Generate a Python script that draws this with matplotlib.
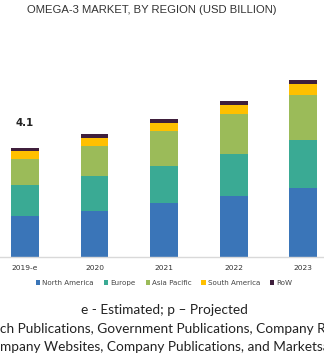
import numpy as np
import matplotlib
matplotlib.use("Agg")
import matplotlib.pyplot as plt
from matplotlib.patches import Patch

years = ["2019-e", "2020", "2021", "2022", "2023"]
regions = ["North America", "Europe", "Asia Pacific", "South America", "RoW"]
north_america = [1.54, 1.74, 2.02, 2.28, 2.59]
europe = [1.17, 1.30, 1.40, 1.60, 1.80]
asia_pacific = [0.99, 1.13, 1.32, 1.50, 1.70]
south_america = [0.30, 0.31, 0.31, 0.35, 0.40]
row = [0.10, 0.14, 0.14, 0.12, 0.15]
label_2019 = "4.1"
colors = ["#3a75b8", "#3aaa94", "#9bbb59", "#ffc000", "#3f1f3c"]

W, H = 324, 361
fig = plt.figure(figsize=(W / 100, H / 100), dpi=100)

# axes placed in pixel terms so the bars land where the reference has them
ax_bottom = 104
ax_top = 321
ax = fig.add_axes([0, ax_bottom / H, 1, (ax_top - ax_bottom) / H])
ax.set_xlim(-0.36, 4.30)
ax.set_ylim(0, (ax_top - ax_bottom) / 26.6)

x = np.arange(len(years))
bottom = np.zeros(len(years))
for vals, c in zip([north_america, europe, asia_pacific, south_america, row], colors):
    ax.bar(x, vals, 0.40, bottom=bottom, color=c, linewidth=0)
    bottom += np.array(vals)

ax.text(x[0], bottom[0] + 0.93, label_2019, ha="center", va="center",
        fontsize=7.4, fontweight="bold", color="#222222")

for s in ["top", "right", "left"]:
    ax.spines[s].set_visible(False)
ax.spines["bottom"].set_color("#d9d9d9")
ax.spines["bottom"].set_linewidth(1.0)
ax.set_yticks([])
ax.set_xticks(x)
ax.set_xticklabels(years, fontsize=5.4, color="#333333")
ax.tick_params(axis="x", length=0, pad=6)

fig.text(0.467, 1 - 10 / H, "OMEGA-3 MARKET, BY REGION (USD BILLION)",
         ha="center", va="center", fontsize=8.1, color="#333333",
         family="Liberation Sans")

handles = [Patch(facecolor=c, edgecolor="none") for c in colors]
fig.legend(handles, regions, loc="center", bbox_to_anchor=(0.507, 1 - 283 / H),
           ncol=5, frameon=False, fontsize=5.1, handlelength=0.6, handleheight=0.6,
           handletextpad=0.3, columnspacing=1.4, labelcolor="#444444")

foot = dict(family="Lato", fontsize=9.85, color="#222222", va="center")
fig.text(0.507, 1 - 310 / H, "e - Estimated; p \u2013 Projected", ha="center", **foot)

# the source lines run past the picture edges, as in the reference
renderer = fig.canvas.get_renderer()


def prefix_width(s):
    t = fig.text(0, 0, s, **foot)
    w = t.get_window_extent(renderer).width
    t.remove()
    return w


line2 = "Research Publications, Government Publications, Company Reports"
line3 = "Company Websites, Company Publications, and MarketsandMarkets Analysis"
fig.text(-prefix_width("Resear") / W, 1 - 329 / H, line2, ha="left", **foot)
fig.text(-prefix_width("Co") / W, 1 - 347 / H, line3, ha="left", **foot)

fig.savefig("out.png", dpi=100)
